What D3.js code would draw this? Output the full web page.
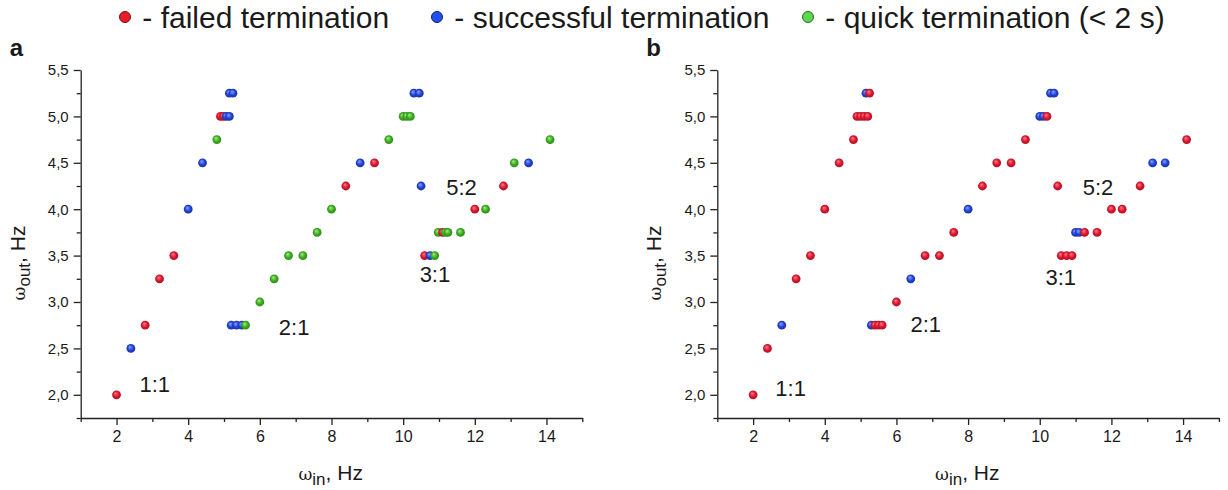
<!DOCTYPE html>
<html>
<head>
<meta charset="utf-8">
<script src="https://cdn.jsdelivr.net/npm/d3@7"></script>
<style>
  body { margin: 0; background: #fff; }
  text { font-family: "Liberation Sans", Arial, sans-serif; fill: #1a1a1a; }
</style>
</head>
<body>
<script>
// ---- data: [omega_in, omega_out] ----
var aFailed = [[2.0,2.0],[2.8,2.75],[3.2,3.25],[3.6,3.5],[4.9,5.0],[4.98,5.0],[8.4,4.25],[9.2,4.5],
  [10.6,3.5],[11.1,3.75],[12.0,4.0],[12.8,4.25]];
var aSuccess = [[2.4,2.5],[4.0,4.0],[4.4,4.5],[5.06,5.0],[5.15,5.0],[5.15,5.25],[5.25,5.25],[5.2,2.75],
  [5.35,2.75],[5.5,2.75],[8.8,4.5],[10.3,5.25],[10.45,5.25],[10.5,4.25],[10.75,3.5],[13.5,4.5]];
var aQuick = [[4.8,4.75],[5.6,2.75],[6.0,3.0],[6.4,3.25],[6.8,3.5],[7.2,3.5],[7.6,3.75],[8.0,4.0],
  [9.6,4.75],[10.0,5.0],[10.1,5.0],[10.2,5.0],[10.88,3.5],[10.98,3.75],[11.18,3.75],[11.25,3.75],
  [11.6,3.75],[12.3,4.0],[13.1,4.5],[14.1,4.75]];

var bFailed = [[2.0,2.0],[2.4,2.5],[3.2,3.25],[3.6,3.5],[4.0,4.0],[4.4,4.5],[4.8,4.75],[4.9,5.0],
  [5.0,5.0],[5.1,5.0],[5.2,5.0],[5.25,5.25],[5.4,2.75],[5.5,2.75],[5.6,2.75],[6.0,3.0],[6.8,3.5],
  [7.2,3.5],[7.6,3.75],[8.4,4.25],[8.8,4.5],[9.2,4.5],[9.6,4.75],[10.2,5.0],[10.5,4.25],[10.6,3.5],
  [10.75,3.5],[10.9,3.5],[11.25,3.75],[11.6,3.75],[12.0,4.0],[12.3,4.0],[12.8,4.25],[14.1,4.75]];
var bSuccess = [[2.8,2.75],[5.15,5.25],[5.3,2.75],[6.4,3.25],[8.0,4.0],[10.0,5.0],[10.1,5.0],
  [10.3,5.25],[10.4,5.25],[11.0,3.75],[11.1,3.75],[13.15,4.5],[13.5,4.5]];
var bQuick = [];

// ratio labels: [text, x, y] in data units (left / baseline)
var aRatios = [["1:1",2.64,2.03],["2:1",6.53,2.64],["3:1",10.46,3.22],["5:2",11.2,4.15]];
var bRatios = [["1:1",2.62,1.99],["2:1",6.39,2.68],["3:1",10.16,3.18],["5:2",11.2,4.15]];

var xMajor = [2,4,6,8,10,12,14];
var xMinor = [1,3,5,7,9,11,13,15];
var yMajor = [2.0,2.5,3.0,3.5,4.0,4.5,5.0,5.5];
var yMinor = [1.75,2.25,2.75,3.25,3.75,4.25,4.75,5.25];

var legendItems = ["failed", "success", "quick"];
var legendText = {failed: " - failed termination", success: " - successful termination", quick: " - quick termination (< 2 s)"};

var colors = {
  failed:  {base: "#d6142c", light: "#ff7a86", legend: "#e81c28", stroke: "#7a1016"},
  success: {base: "#1f3fd0", light: "#8aa2ff", legend: "#2050f0", stroke: "#14206a"},
  quick:   {base: "#38a81c", light: "#a6ee88", legend: "#5ad84e", stroke: "#2a6a22"}
};

var W = 1228, H = 490;
var svg = d3.select("body").append("svg").attr("width", W).attr("height", H);

var defs = svg.append("defs");
Object.keys(colors).forEach(function(k) {
  var g = defs.append("radialGradient").attr("id", "g-" + k)
    .attr("cx", "0.5").attr("cy", "0.5").attr("r", "0.55").attr("fx", "0.38").attr("fy", "0.32");
  g.append("stop").attr("offset", "0%").attr("stop-color", colors[k].light);
  g.append("stop").attr("offset", "60%").attr("stop-color", colors[k].base);
  g.append("stop").attr("offset", "100%").attr("stop-color", d3.color(colors[k].base).darker(0.6));
});

// legend
var legendX = {failed: 125, success: 437, quick: 808};
legendItems.forEach(function(k) {
  svg.append("circle").attr("cx", legendX[k]).attr("cy", 17).attr("r", 5.5)
    .attr("fill", colors[k].legend).attr("stroke", colors[k].stroke).attr("stroke-width", 1);
  svg.append("text").attr("x", legendX[k] + 9).attr("y", 28)
    .style("font-size", "30px").style("white-space", "pre").text(legendText[k]);
});

var comma = function(d) { return d3.format(".1f")(d).replace(".", ","); };

function drawPanel(left, letter, failed, success, quick, ratios) {
  var x = d3.scaleLinear().domain([1, 15]).range([left, left + 501.6]);
  var y = d3.scaleLinear().domain([1.75, 5.5]).range([418, 70]);

  svg.append("text").attr("x", left - 71).attr("y", 56)
    .style("font-size", "24px").style("font-weight", "bold").text(letter);

  // minor ticks
  svg.append("g").attr("transform", "translate(0,418)")
    .call(d3.axisBottom(x).tickValues(xMinor).tickSize(4).tickFormat("").tickSizeOuter(0))
    .call(function(g) { g.select(".domain").remove(); });
  svg.append("g").attr("transform", "translate(" + left + ",0)")
    .call(d3.axisLeft(y).tickValues(yMinor).tickSize(4).tickFormat("").tickSizeOuter(0))
    .call(function(g) { g.select(".domain").remove(); });

  var xa = svg.append("g").attr("transform", "translate(0,418)")
    .call(d3.axisBottom(x).tickValues(xMajor).tickSize(7).tickPadding(6).tickSizeOuter(0));
  xa.selectAll("text").style("font-size", "16px").attr("fill", "#1a1a1a");

  var ya = svg.append("g").attr("transform", "translate(" + left + ",0)")
    .call(d3.axisLeft(y).tickValues(yMajor).tickSize(7).tickPadding(5).tickFormat(comma).tickSizeOuter(0));
  ya.selectAll("text").style("font-size", "15px").attr("fill", "#1a1a1a");

  svg.selectAll(".domain, .tick line").attr("stroke", "#222").attr("stroke-width", 1.3);

  // axis titles
  var xt = svg.append("text").attr("x", left + 250).attr("y", 480)
    .attr("text-anchor", "middle").style("font-size", "21px");
  xt.append("tspan").style("font-family", "'DejaVu Serif', serif").style("font-size", "17px").text("ω");
  xt.append("tspan").attr("dy", 5).style("font-size", "17px").text("in");
  xt.append("tspan").attr("dy", -5).text(", Hz");

  var yt = svg.append("text").attr("transform", "translate(" + (left - 56) + ",263) rotate(-90)")
    .attr("text-anchor", "middle").style("font-size", "21px");
  yt.append("tspan").style("font-family", "'DejaVu Serif', serif").style("font-size", "17px").text("ω");
  yt.append("tspan").attr("dy", 5).style("font-size", "17px").text("out");
  yt.append("tspan").attr("dy", -5).text(", Hz");

  // points, drawn left to right so the right-hand dot of a cluster sits on top
  var pts = [];
  failed.forEach(function(p) { pts.push({x: p[0], y: p[1], k: "failed"}); });
  success.forEach(function(p) { pts.push({x: p[0], y: p[1], k: "success"}); });
  quick.forEach(function(p) { pts.push({x: p[0], y: p[1], k: "quick"}); });
  pts.sort(function(a, b) { return a.x - b.x; });

  svg.append("g").selectAll("circle").data(pts).enter().append("circle")
    .attr("cx", function(d) { return x(d.x); })
    .attr("cy", function(d) { return y(d.y); })
    .attr("r", 4.4)
    .attr("fill", function(d) { return "url(#g-" + d.k + ")"; });

  svg.append("g").selectAll("text").data(ratios).enter().append("text")
    .attr("x", function(d) { return x(d[1]); })
    .attr("y", function(d) { return y(d[2]); })
    .style("font-size", "22px")
    .text(function(d) { return d[0]; });
}

drawPanel(80.7, "a", aFailed, aSuccess, aQuick, aRatios);
drawPanel(717.3, "b", bFailed, bSuccess, bQuick, bRatios);
</script>
</body>
</html>
